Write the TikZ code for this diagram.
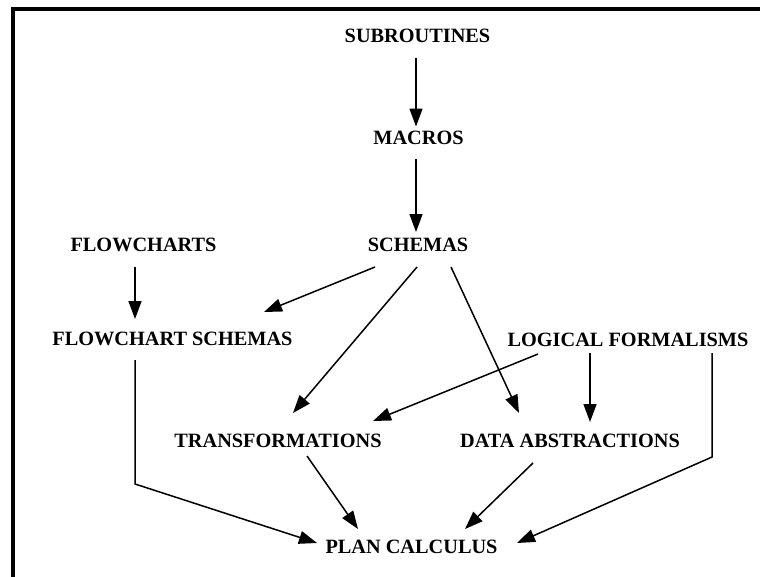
\documentclass[tikz,border=0pt]{standalone}
\usepackage{fontspec}
\setmainfont{Liberation Serif}
\usetikzlibrary{arrows.meta}
\begin{document}
\begin{tikzpicture}[x=1pt,y=-1pt,
  concept/.style={inner sep=0pt,text height=13pt,text depth=0pt,
    font=\fontsize{20.3}{24}\selectfont\bfseries},
  link/.style={line width=1.5pt,-{Triangle[length=18pt,width=13pt]}},
  frame/.style={line width=4pt}]
\useasboundingbox (0,0) rectangle (760,576);
\clip (0,0) rectangle (760,576);
\fill[white] (0,0) rectangle (760,576);
\draw[frame] (13,620) -- (13,9) -- (800,9);

% concepts
\node[concept] (sub) at (417.5,36) {SUBROUTINES};
\node[concept] (mac) at (418.5,137.5) {MACROS};
\node[concept] (sch) at (418,245) {SCHEMAS};
\node[concept] (fc)  at (143.5,245) {FLOWCHARTS};
\node[concept] (fs)  at (172.5,339) {FLOWCHART SCHEMAS};
\node[concept] (lf)  at (628,339.5) {LOGICAL FORMALISMS};
\node[concept] (tr)  at (278,441) {TRANSFORMATIONS};
\node[concept] (da)  at (570,441) {DATA ABSTRACTIONS};
\node[concept] (pc)  at (411.5,547) {PLAN CALCULUS};

% bends of the two long routes
\coordinate (bendl) at (135,484);
\coordinate (bendr) at (712,457);

% connectors
\draw[link] ([shift={(-1.5,22)}]sub.center) -- ([shift={(-2.5,-11)}]mac.center);
\draw[link] ([shift={(-2.5,21.5)}]mac.center) -- ([shift={(-2,-13)}]sch.center);
\draw[link] ([shift={(-8.5,22)}]fc.center) -- ([shift={(-37.5,-20)}]fs.center);
\draw[link] ([shift={(-43,22)}]sch.center) -- ([shift={(91.5,-27)}]fs.center);
\draw[link] ([shift={(-1,22)}]sch.center) -- ([shift={(15,-28)}]tr.center);
\draw[link] ([shift={(33,22)}]sch.center) -- ([shift={(-51,-28)}]da.center);
\draw[link] ([shift={(-90,14.5)}]lf.center) -- ([shift={(95,-20)}]tr.center);
\draw[link] ([shift={(-38,13.5)}]lf.center) -- ([shift={(20,-19)}]da.center);
\draw[link] ([shift={(84,13.5)}]lf.center) -- (bendr) -- ([shift={(105.5,-4)}]pc.center);
\draw[link] ([shift={(29,15)}]tr.center) -- ([shift={(-53.5,-18)}]pc.center);
\draw[link] ([shift={(-37,22)}]da.center) -- ([shift={(53.5,-18)}]pc.center);
\draw[link] ([shift={(-37.5,21)}]fs.center) -- (bendl) -- ([shift={(-94.5,-4)}]pc.center);
\end{tikzpicture}
\end{document}
